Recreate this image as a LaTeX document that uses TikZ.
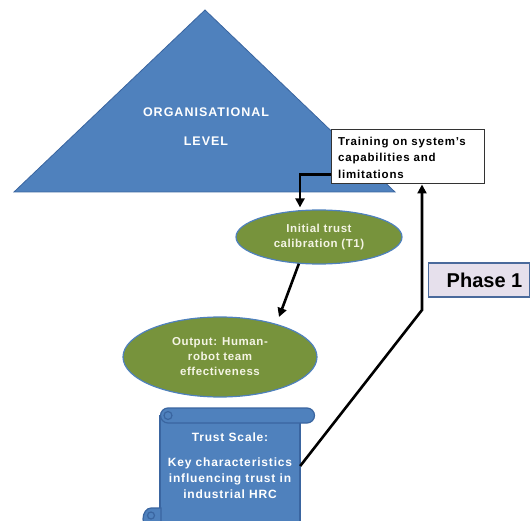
\documentclass[tikz,border=0pt]{standalone}
\usepackage{fontspec}
\setmainfont{Liberation Sans}
\usetikzlibrary{arrows.meta,calc,shapes.geometric}
\definecolor{officeblue}{HTML}{4F81BD}
\definecolor{blueedge}{HTML}{3A65A0}
\definecolor{olive}{HTML}{77933C}
\definecolor{lavender}{HTML}{E6E0EC}
\definecolor{phaseedge}{HTML}{4A6A9C}
\definecolor{cream}{HTML}{F4F4E4}
\begin{document}
\begin{tikzpicture}[x=1pt,y=-1pt,
  arr/.style={line width=2.6pt,-{Triangle[length=9pt,width=9pt]}},
  oval/.style={ellipse,draw=officeblue,line width=1.2pt,fill=olive,text=cream,inner sep=0pt,align=center},
  ovaltext/.style={font=\bfseries\fontsize{11.5}{15}\selectfont\addfontfeatures{LetterSpace=5}},
  ]
\useasboundingbox (0,0) rectangle (530,521);
% organisational pyramid
\fill[officeblue,draw=blueedge,line width=0.8pt] (205,10) -- (395,192) -- (14,192) -- cycle;
\node[text=white,align=center,font=\bfseries\fontsize{12.5}{29}\selectfont\addfontfeatures{LetterSpace=8}] (org) at (206,127) {ORGANISATIONAL\\LEVEL};
% training box
\node[draw=black!80,line width=1pt,fill=white,minimum width=153pt,minimum height=54pt,inner sep=0pt] (train) at (407.5,157) {};
\node[font=\bfseries\fontsize{11.5}{16.5}\selectfont\addfontfeatures{LetterSpace=7},align=left,anchor=north west,inner sep=0pt] (traintxt) at (338,136.5) {Training on system's\\capabilities and\\limitations};
% trust calibration ellipses
\node[oval,ovaltext,minimum width=166pt,minimum height=54pt] (init) at (319,237) {Initial trust\\calibration (T1)};
\node[oval,ovaltext,minimum width=194pt,minimum height=80pt] (out) at (220,357) {Output: Human-\\robot team\\effectiveness};
% trust scale scroll
\begin{scope}[fill=officeblue,draw=blueedge,line width=1.2pt]
  \filldraw (160,416) -- (160,530) -- (300,530) -- (300,416) -- cycle;
  \filldraw (168,408) -- (307,408) arc[start angle=90,end angle=-90,radius=7.5pt] -- (168,423) arc[start angle=270,end angle=90,radius=7.5pt];
  \filldraw (168,411.5) arc[start angle=90,end angle=450,radius=4pt];
  \filldraw (151,508) -- (161,508) -- (161,530) -- (151,530) arc[start angle=270,end angle=90,x radius=8pt,y radius=11pt];
  \filldraw (151,512) arc[start angle=90,end angle=450,radius=3.5pt];
\end{scope}
\node[font=\bfseries\fontsize{12}{16}\selectfont\addfontfeatures{LetterSpace=7},text=white,align=center,minimum width=140pt,inner sep=0pt] (scroll) at (230,466) {Trust Scale:\\[9pt]Key characteristics\\influencing trust in\\industrial HRC};
% phase label
\node[draw=phaseedge,line width=1.6pt,fill=lavender,minimum width=101pt,minimum height=34pt,inner sep=0pt] (phase) at (479,280) {};
\node[font=\bfseries\fontsize{20}{22}\selectfont] (phasetxt) at (484.5,280) {Phase 1};
% connectors
\coordinate (bend) at (422,310);
\coordinate (tip) at (279,317);
\draw[arr] ([yshift=10pt]train.south west) -| ([xshift=-19pt,yshift=2pt]init.north);
\draw[arr] (init.233) -- (tip);
\draw[arr] (scroll.east) -- (bend) -- ([xshift=14.5pt]train.south);
\end{tikzpicture}
\end{document}
